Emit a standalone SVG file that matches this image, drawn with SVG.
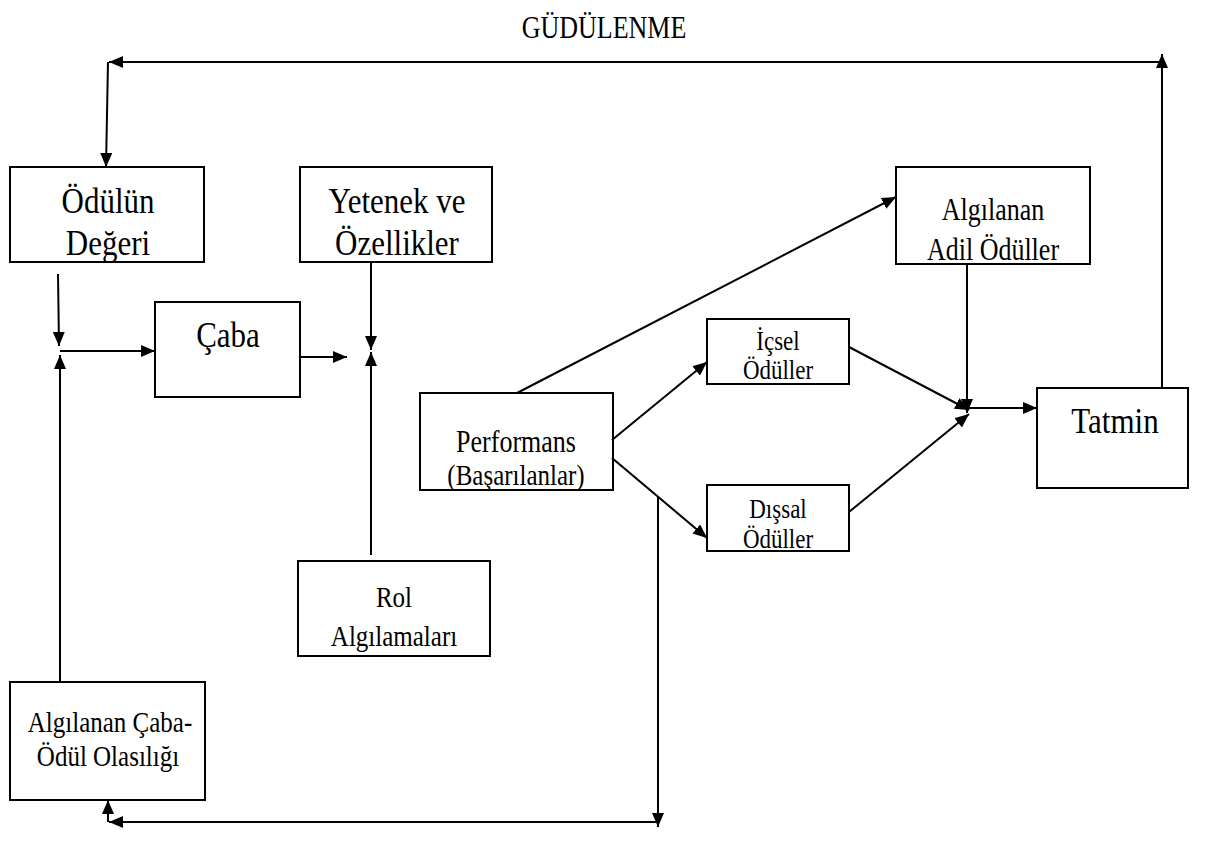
<svg xmlns="http://www.w3.org/2000/svg" width="1208" height="862" viewBox="0 0 1208 862">
<style>
rect{fill:#fff;stroke:#000;stroke-width:2}
text{font-family:'Liberation Serif','Times New Roman',serif;fill:#000;text-anchor:middle}
.c line{stroke:#000;stroke-width:2;fill:none}
.l{font-size:31px}
.m{font-size:26px}
.r{font-size:25px}
.s{font-size:23px}
</style>
<defs>
<marker id="ah" viewBox="0 0 14 12" refX="14" refY="6" markerWidth="14" markerHeight="12" markerUnits="userSpaceOnUse" orient="auto"><path d="M0,0L14,6L0,12z" fill="#000"/></marker>
</defs>
<rect x="0" y="0" width="1208" height="862" style="stroke:none"/>
<text transform="translate(604,38) scale(1,1.18)" font-size="26">GÜDÜLENME</text>
<g id="odulun"><rect x="10" y="167" width="194" height="95"/><text class="l" transform="translate(108,213) scale(1,1.18)">Ödülün</text><text class="l" transform="translate(108,255) scale(1,1.18)">Değeri</text></g>
<g id="yetenek"><rect x="300" y="167" width="192" height="95"/><text class="l" transform="translate(397,213) scale(1,1.18)">Yetenek ve</text><text class="l" transform="translate(397,255) scale(1,1.18)">Özellikler</text></g>
<g id="caba"><rect x="155" y="302" width="145" height="95"/><text class="l" transform="translate(228,347) scale(1,1.18)">Çaba</text></g>
<g id="performans"><rect x="420" y="393" width="193" height="97"/><text class="m" transform="translate(516,452) scale(1,1.18)">Performans</text><text class="r" transform="translate(516,485) scale(1,1.18)">(Başarılanlar)</text></g>
<g id="adil"><rect x="896" y="167" width="194" height="97"/><text class="m" transform="translate(993,220) scale(1,1.18)">Algılanan</text><text class="m" transform="translate(993,260) scale(1,1.18)">Adil Ödüller</text></g>
<g id="icsel"><rect x="707" y="319" width="142" height="65"/><text class="s" transform="translate(778,350) scale(1,1.18)">İçsel</text><text class="s" transform="translate(778,379) scale(1,1.18)">Ödüller</text></g>
<g id="dissal"><rect x="707" y="485" width="142" height="66"/><text class="s" transform="translate(778,518) scale(1,1.18)">Dışsal</text><text class="s" transform="translate(778,548) scale(1,1.18)">Ödüller</text></g>
<g id="tatmin"><rect x="1037" y="388" width="151" height="100"/><text class="l" transform="translate(1115,433) scale(1,1.18)">Tatmin</text></g>
<g id="rol"><rect x="298" y="561" width="192" height="95"/><text class="r" transform="translate(394,607) scale(1,1.18)">Rol</text><text class="r" transform="translate(394,646) scale(1,1.18)">Algılamaları</text></g>
<g id="olasilik"><rect x="10" y="682" width="195" height="118"/><text class="r" transform="translate(110,732) scale(1,1.18)">Algılanan Çaba-</text><text class="r" transform="translate(108,766) scale(1,1.18)">Ödül Olasılığı</text></g>
<g class="c">
<line x1="1162" y1="388" x2="1162" y2="54" marker-end="url(#ah)"/>
<line x1="1162" y1="62" x2="109" y2="62" marker-end="url(#ah)"/>
<line x1="108" y1="62" x2="106" y2="167" marker-end="url(#ah)"/>
<line x1="58" y1="274" x2="59" y2="346" marker-end="url(#ah)"/>
<line x1="60" y1="351" x2="155" y2="351" marker-end="url(#ah)"/>
<line x1="60" y1="682" x2="60" y2="355" marker-end="url(#ah)"/>
<line x1="300" y1="357" x2="347" y2="357" marker-end="url(#ah)"/>
<line x1="371" y1="262" x2="371" y2="350" marker-end="url(#ah)"/>
<line x1="371" y1="555" x2="371" y2="352" marker-end="url(#ah)"/>
<line x1="517" y1="393" x2="896" y2="197" marker-end="url(#ah)"/>
<line x1="612" y1="440" x2="707" y2="362" marker-end="url(#ah)"/>
<line x1="612" y1="458" x2="707" y2="538" marker-end="url(#ah)"/>
<line x1="849" y1="347" x2="969" y2="410" marker-end="url(#ah)"/>
<line x1="849" y1="512" x2="969" y2="414" marker-end="url(#ah)"/>
<line x1="967" y1="264" x2="967" y2="413" marker-end="url(#ah)"/>
<line x1="967" y1="408" x2="1037" y2="408" marker-end="url(#ah)"/>
<line x1="658" y1="496" x2="658" y2="827" marker-end="url(#ah)"/>
<line x1="658" y1="822" x2="109" y2="822" marker-end="url(#ah)"/>
<line x1="108" y1="822" x2="108" y2="800" marker-end="url(#ah)"/>
</g>
</svg>
